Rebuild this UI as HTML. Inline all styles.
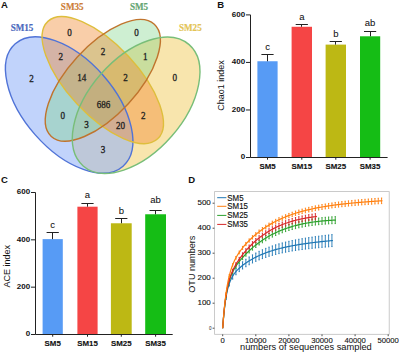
<!DOCTYPE html><html><head><meta charset="utf-8"><style>html,body{margin:0;padding:0;background:#fff;}svg{display:block;}.s{font-family:"Liberation Sans",sans-serif;}.r{font-family:"Liberation Serif",serif;}</style></head><body>
<svg width="400" height="355" viewBox="0 0 400 355">
<rect width="400" height="355" fill="#fff"/>
<ellipse cx="136.14" cy="105.27" rx="80.52" ry="47.1" transform="rotate(-48.86 136.14 105.27)" fill="rgb(238,191,56)" fill-opacity="0.41"/>
<ellipse cx="69.16" cy="105.02" rx="81.56" ry="45.15" transform="rotate(48.63 69.16 105.02)" fill="rgb(149,181,248)" fill-opacity="0.59"/>
<ellipse cx="102.81" cy="80.32" rx="76.13" ry="34.6" transform="rotate(-47.44 102.81 80.32)" fill="rgb(122,212,134)" fill-opacity="0.37"/>
<ellipse cx="102.77" cy="80.11" rx="80.39" ry="35.09" transform="rotate(46.95 102.77 80.11)" fill="rgb(241,133,41)" fill-opacity="0.4"/>
<ellipse cx="69.16" cy="105.02" rx="81.56" ry="45.15" transform="rotate(48.63 69.16 105.02)" fill="none" stroke="rgb(80,115,215)" stroke-width="1.4"/>
<ellipse cx="102.77" cy="80.11" rx="80.39" ry="35.09" transform="rotate(46.95 102.77 80.11)" fill="none" stroke="rgb(222,190,60)" stroke-width="1.4"/>
<ellipse cx="102.81" cy="80.32" rx="76.13" ry="34.6" transform="rotate(-47.44 102.81 80.32)" fill="none" stroke="rgb(192,116,45)" stroke-width="1.4"/>
<ellipse cx="136.14" cy="105.27" rx="80.52" ry="47.1" transform="rotate(-48.86 136.14 105.27)" fill="none" stroke="rgb(120,190,120)" stroke-width="1.4"/>
<g class="r" font-weight="bold" font-size="10">
<text transform="translate(22.05 30.55) scale(0.91 1)" text-anchor="middle" fill="rgb(75,105,190)" stroke="rgb(75,105,190)" stroke-width="0.2">SM15</text>
<text transform="translate(72.2 9.85) scale(0.91 1)" text-anchor="middle" fill="rgb(205,125,55)" stroke="rgb(205,125,55)" stroke-width="0.2">SM35</text>
<text transform="translate(139 9.85) scale(0.91 1)" text-anchor="middle" fill="rgb(100,165,115)" stroke="rgb(100,165,115)" stroke-width="0.2">SM5</text>
<text transform="translate(190.35 30.55) scale(0.91 1)" text-anchor="middle" fill="rgb(228,196,85)" stroke="rgb(228,196,85)" stroke-width="0.2">SM25</text>
</g>
<g class="r" font-size="10" fill="#1e1e1e" stroke="#1e1e1e" stroke-width="0.3" text-anchor="middle">
<text transform="translate(69.5 35.8) scale(0.91 1)">0</text>
<text transform="translate(136.5 35.8) scale(0.91 1)">0</text>
<text transform="translate(31.5 81.5) scale(0.91 1)">2</text>
<text transform="translate(174.75 80.80000000000001) scale(0.91 1)">0</text>
<text transform="translate(60.75 60.0) scale(0.91 1)">2</text>
<text transform="translate(103 55.199999999999996) scale(0.91 1)">2</text>
<text transform="translate(145.4 59.9) scale(0.91 1)">1</text>
<text transform="translate(81.75 81.2) scale(0.91 1)">14</text>
<text transform="translate(125.5 81.2) scale(0.91 1)">2</text>
<text transform="translate(103.55 107.80000000000001) scale(0.91 1)">686</text>
<text transform="translate(62.75 119.10000000000001) scale(0.91 1)">0</text>
<text transform="translate(143.4 119.4) scale(0.91 1)">2</text>
<text transform="translate(86.5 128.3) scale(0.91 1)">3</text>
<text transform="translate(120.5 128.70000000000002) scale(0.91 1)">20</text>
<text transform="translate(103.1 152.5) scale(0.91 1)">3</text>
</g>
<g class="s" font-weight="bold" font-size="9.5" fill="#111">
<text x="1.1" y="8.1">A</text><text x="217.3" y="8.1">B</text><text x="0.9" y="182.8">C</text><text x="188.2" y="182.8">D</text>
</g>
<rect x="257.4" y="61.25" width="20.2" height="96.25" fill="#579bf5"/><path d="M267.5 61.25V54.5M261.4 54.5H273.6" stroke="#222" stroke-width="1" fill="none"/><text class="s" x="267.5" y="50.3" font-size="9.5" text-anchor="middle" fill="#111" stroke="#111" stroke-width="0.05">c</text><rect x="291.6" y="26.78" width="20.4" height="130.72" fill="#f54545"/><path d="M301.5 26.78V24.5M295.7 24.5H307.9" stroke="#222" stroke-width="1" fill="none"/><text class="s" x="301.8" y="20.3" font-size="9.5" text-anchor="middle" fill="#111" stroke="#111" stroke-width="0.05">a</text><rect x="325.6" y="44.61" width="20.4" height="112.89" fill="#bdb814"/><path d="M335.5 44.61V41.5M329.7 41.5H341.9" stroke="#222" stroke-width="1" fill="none"/><text class="s" x="335.8" y="36.6" font-size="9.5" text-anchor="middle" fill="#111" stroke="#111" stroke-width="0.05">b</text><rect x="360" y="36.29" width="20.2" height="121.21" fill="#15bd15"/><path d="M370.5 36.29V31.5M364 31.5H376.2" stroke="#222" stroke-width="1" fill="none"/><text class="s" x="370.1" y="26.3" font-size="9.5" text-anchor="middle" fill="#111" stroke="#111" stroke-width="0.05">ab</text><path d="M250.5 14.9V157.5H387.6" stroke="#222" stroke-width="1" fill="none"/><path d="M246.0 157.5H250.5" stroke="#222" stroke-width="1"/><text class="s" x="245.1" y="159.3" font-size="8" font-weight="bold" text-anchor="end" fill="#111">0</text><path d="M246.0 109.97H250.5" stroke="#222" stroke-width="1"/><text class="s" x="245.1" y="111.77" font-size="8" font-weight="bold" text-anchor="end" fill="#111">200</text><path d="M246.0 62.43H250.5" stroke="#222" stroke-width="1"/><text class="s" x="245.1" y="64.23" font-size="8" font-weight="bold" text-anchor="end" fill="#111">400</text><path d="M246.0 14.9H250.5" stroke="#222" stroke-width="1"/><text class="s" x="245.1" y="16.7" font-size="8" font-weight="bold" text-anchor="end" fill="#111">600</text><path d="M267.5 157.5v2.2" stroke="#222" stroke-width="1"/><text class="s" x="267.5" y="169.3" font-size="7.9" font-weight="bold" text-anchor="middle" fill="#111" stroke="#111" stroke-width="0.12">SM5</text><path d="M301.8 157.5v2.2" stroke="#222" stroke-width="1"/><text class="s" x="301.8" y="169.3" font-size="7.9" font-weight="bold" text-anchor="middle" fill="#111" stroke="#111" stroke-width="0.12">SM15</text><path d="M335.8 157.5v2.2" stroke="#222" stroke-width="1"/><text class="s" x="335.8" y="169.3" font-size="7.9" font-weight="bold" text-anchor="middle" fill="#111" stroke="#111" stroke-width="0.12">SM25</text><path d="M370.1 157.5v2.2" stroke="#222" stroke-width="1"/><text class="s" x="370.1" y="169.3" font-size="7.9" font-weight="bold" text-anchor="middle" fill="#111" stroke="#111" stroke-width="0.12">SM35</text><text class="s" transform="translate(224.2 85.6) rotate(-90)" font-size="9" text-anchor="middle" fill="#111">Chao1 index</text>
<rect x="42.6" y="239.12" width="20.2" height="95.38" fill="#579bf5"/><path d="M52.5 239.12V232.5M46.6 232.5H58.8" stroke="#222" stroke-width="1" fill="none"/><text class="s" x="52.7" y="228.2" font-size="9.5" text-anchor="middle" fill="#111" stroke="#111" stroke-width="0.05">c</text><rect x="77.4" y="206.7" width="20.2" height="127.8" fill="#f54545"/><path d="M87.5 206.7V203.5M81.4 203.5H93.6" stroke="#222" stroke-width="1" fill="none"/><text class="s" x="87.5" y="197.6" font-size="9.5" text-anchor="middle" fill="#111" stroke="#111" stroke-width="0.05">a</text><rect x="110.9" y="223.27" width="20.8" height="111.23" fill="#bdb814"/><path d="M121.5 223.27V218.5M115.2 218.5H127.4" stroke="#222" stroke-width="1" fill="none"/><text class="s" x="121.3" y="213.6" font-size="9.5" text-anchor="middle" fill="#111" stroke="#111" stroke-width="0.05">b</text><rect x="145.2" y="214.27" width="20.8" height="120.23" fill="#15bd15"/><path d="M155.5 214.27V210.5M149.5 210.5H161.7" stroke="#222" stroke-width="1" fill="none"/><text class="s" x="155.6" y="202.8" font-size="9.5" text-anchor="middle" fill="#111" stroke="#111" stroke-width="0.05">ab</text><path d="M35.5 192.5V334.5H172.7" stroke="#222" stroke-width="1" fill="none"/><path d="M31.0 334.5H35.5" stroke="#222" stroke-width="1"/><text class="s" x="30.1" y="336.3" font-size="8" font-weight="bold" text-anchor="end" fill="#111">0</text><path d="M31.0 287.17H35.5" stroke="#222" stroke-width="1"/><text class="s" x="30.1" y="288.97" font-size="8" font-weight="bold" text-anchor="end" fill="#111">200</text><path d="M31.0 239.83H35.5" stroke="#222" stroke-width="1"/><text class="s" x="30.1" y="241.63" font-size="8" font-weight="bold" text-anchor="end" fill="#111">400</text><path d="M31.0 192.5H35.5" stroke="#222" stroke-width="1"/><text class="s" x="30.1" y="194.3" font-size="8" font-weight="bold" text-anchor="end" fill="#111">600</text><path d="M52.7 334.5v2.2" stroke="#222" stroke-width="1"/><text class="s" x="52.7" y="346.3" font-size="7.9" font-weight="bold" text-anchor="middle" fill="#111" stroke="#111" stroke-width="0.12">SM5</text><path d="M87.5 334.5v2.2" stroke="#222" stroke-width="1"/><text class="s" x="87.5" y="346.3" font-size="7.9" font-weight="bold" text-anchor="middle" fill="#111" stroke="#111" stroke-width="0.12">SM15</text><path d="M121.3 334.5v2.2" stroke="#222" stroke-width="1"/><text class="s" x="121.3" y="346.3" font-size="7.9" font-weight="bold" text-anchor="middle" fill="#111" stroke="#111" stroke-width="0.12">SM25</text><path d="M155.6 334.5v2.2" stroke="#222" stroke-width="1"/><text class="s" x="155.6" y="346.3" font-size="7.9" font-weight="bold" text-anchor="middle" fill="#111" stroke="#111" stroke-width="0.12">SM35</text><text class="s" transform="translate(10.2 266.3) rotate(-90)" font-size="9" text-anchor="middle" fill="#111">ACE index</text>
<rect x="214.6" y="191.6" width="174.6" height="142.7" fill="none" stroke="#bdbdbd" stroke-width="0.8"/><path d="M212.6 328.2H214.4" stroke="#222" stroke-width="0.8"/><text class="s" x="211.4" y="329.7" font-size="4.5" text-anchor="end" fill="#222">0</text><path d="M212.6 303.2H214.4" stroke="#222" stroke-width="0.8"/><text class="s" x="210.8" y="305.2" font-size="8" text-anchor="end" fill="#111" stroke="#111" stroke-width="0.12">100</text><path d="M212.6 278.2H214.4" stroke="#222" stroke-width="0.8"/><text class="s" x="210.8" y="280.2" font-size="8" text-anchor="end" fill="#111" stroke="#111" stroke-width="0.12">200</text><path d="M212.6 253.2H214.4" stroke="#222" stroke-width="0.8"/><text class="s" x="210.8" y="255.2" font-size="8" text-anchor="end" fill="#111" stroke="#111" stroke-width="0.12">300</text><path d="M212.6 228.2H214.4" stroke="#222" stroke-width="0.8"/><text class="s" x="210.8" y="230.2" font-size="8" text-anchor="end" fill="#111" stroke="#111" stroke-width="0.12">400</text><path d="M212.6 203.2H214.4" stroke="#222" stroke-width="0.8"/><text class="s" x="210.8" y="205.2" font-size="8" text-anchor="end" fill="#111" stroke="#111" stroke-width="0.12">500</text><path d="M222.7 334.4V336.2" stroke="#222" stroke-width="0.8"/><text class="s" x="222.7" y="342.6" font-size="7.7" text-anchor="middle" fill="#111" stroke="#111" stroke-width="0.1">0</text><path d="M255.8 334.4V336.2" stroke="#222" stroke-width="0.8"/><text class="s" x="255.8" y="342.6" font-size="7.7" text-anchor="middle" fill="#111" stroke="#111" stroke-width="0.1">10000</text><path d="M288.9 334.4V336.2" stroke="#222" stroke-width="0.8"/><text class="s" x="288.9" y="342.6" font-size="7.7" text-anchor="middle" fill="#111" stroke="#111" stroke-width="0.1">20000</text><path d="M322 334.4V336.2" stroke="#222" stroke-width="0.8"/><text class="s" x="322" y="342.6" font-size="7.7" text-anchor="middle" fill="#111" stroke="#111" stroke-width="0.1">30000</text><path d="M355.1 334.4V336.2" stroke="#222" stroke-width="0.8"/><text class="s" x="355.1" y="342.6" font-size="7.7" text-anchor="middle" fill="#111" stroke="#111" stroke-width="0.1">40000</text><path d="M388.2 334.4V336.2" stroke="#222" stroke-width="0.8"/><text class="s" x="388.2" y="342.6" font-size="7.7" text-anchor="middle" fill="#111" stroke="#111" stroke-width="0.1">50000</text><text class="s" x="305.9" y="350.4" font-size="9.3" text-anchor="middle" fill="#111">numbers of sequences sampled</text><text class="s" transform="translate(195.4 264.2) rotate(-90)" font-size="9.1" text-anchor="middle" fill="#111">OTU numbers</text><polyline points="222.7,328.2 222.71,328.09 222.73,327.76 222.77,327.21 222.83,326.46 222.9,325.5 222.99,324.36 223.09,323.04 223.21,321.57 223.34,319.96 223.49,318.22 223.66,316.38 223.84,314.45 224.04,312.46 224.26,310.42 224.49,308.35 224.73,306.28 225,304.2 225.27,302.14 225.57,300.12 225.88,298.14 226.2,296.21 226.54,294.34 226.9,292.54 227.28,290.81 227.66,289.15 228.07,287.57 228.49,286.07 228.93,284.64 229.38,283.29 230.25,280.99 231.12,279.02 231.99,277.31 232.86,275.81 233.73,274.47 234.6,273.26 235.47,272.16 236.34,271.14 237.21,270.2 238.08,269.31 238.95,268.48 239.82,267.69 240.69,266.93 241.56,266.21 242.43,265.51 243.3,264.84 244.17,264.2 245.04,263.57 245.91,262.97 246.78,262.38 247.65,261.81 248.52,261.26 249.39,260.72 250.26,260.2 251.13,259.69 252,259.2 252.87,258.72 253.74,258.25 254.61,257.79 255.48,257.35 256.35,256.91 257.22,256.49 258.09,256.08 258.96,255.68 259.83,255.29 260.7,254.91 261.57,254.54 262.44,254.17 263.31,253.82 264.18,253.48 265.05,253.14 265.92,252.81 266.79,252.49 267.66,252.18 268.53,251.88 269.4,251.58 270.27,251.29 271.14,251 272.01,250.73 272.88,250.46 273.75,250.19 274.62,249.94 275.49,249.68 276.36,249.44 277.23,249.2 278.1,248.96 278.97,248.73 279.84,248.51 280.71,248.29 281.59,248.07 282.46,247.86 283.33,247.66 284.2,247.45 285.07,247.26 285.94,247.06 286.81,246.88 287.68,246.69 288.55,246.51 289.42,246.33 290.29,246.16 291.16,245.99 292.03,245.82 292.9,245.66 293.77,245.5 294.64,245.34 295.51,245.19 296.38,245.04 297.25,244.89 298.12,244.74 298.99,244.6 299.86,244.46 300.73,244.32 301.6,244.19 302.47,244.05 303.34,243.92 304.21,243.8 305.08,243.67 305.95,243.55 306.82,243.42 307.69,243.3 308.56,243.19 309.43,243.07 310.3,242.96 311.17,242.84 312.04,242.73 312.91,242.62 313.78,242.52 314.65,242.41 315.52,242.31 316.39,242.21 317.26,242.1 318.13,242 319,241.91 319.87,241.81 320.74,241.71 321.61,241.62 322.48,241.53 323.35,241.43 324.22,241.34 325.09,241.25 325.96,241.17 326.83,241.08 327.7,240.99 328.57,240.91 329.44,240.82 330.31,240.74 331.18,240.65 332.05,240.57 332.92,240.49" fill="none" stroke="#1f77b4" stroke-width="1.2"/><path d="M226.01 295.24V299.43M225.41 295.24h1.2M225.41 299.43h1.2M229.32 280.88V286.04M228.72 280.88h1.2M228.72 286.04h1.2M232.63 273.28V279.11M232.03 273.28h1.2M232.03 279.11h1.2M235.94 268.43V274.78M235.34 268.43h1.2M235.34 274.78h1.2M239.25 264.8V271.6M238.65 264.8h1.2M238.65 271.6h1.2M242.56 261.82V269M241.96 261.82h1.2M241.96 269h1.2M245.87 259.24V266.75M245.27 259.24h1.2M245.27 266.75h1.2M249.18 256.94V264.76M248.58 256.94h1.2M248.58 264.76h1.2M252.49 254.87V262.98M251.89 254.87h1.2M251.89 262.98h1.2M255.8 253V261.37M255.2 253h1.2M255.2 261.37h1.2M259.11 251.31V259.92M258.51 251.31h1.2M258.51 259.92h1.2M262.42 249.77V258.6M261.82 249.77h1.2M261.82 258.6h1.2M265.73 248.36V257.41M265.13 248.36h1.2M265.13 257.41h1.2M269.04 247.08V256.33M268.44 247.08h1.2M268.44 256.33h1.2M272.35 245.9V255.35M271.75 245.9h1.2M271.75 255.35h1.2M275.66 244.82V254.45M275.06 244.82h1.2M275.06 254.45h1.2M278.97 243.83V253.64M278.37 243.83h1.2M278.37 253.64h1.2M282.28 242.91V252.89M281.68 242.91h1.2M281.68 252.89h1.2M285.59 242.07V252.21M284.99 242.07h1.2M284.99 252.21h1.2M288.9 241.29V251.59M288.3 241.29h1.2M288.3 251.59h1.2M292.21 240.56V251.01M291.61 240.56h1.2M291.61 251.01h1.2M295.52 239.89V250.48M294.92 239.89h1.2M294.92 250.48h1.2M298.83 239.26V249.99M298.23 239.26h1.2M298.23 249.99h1.2M302.14 238.66V249.54M301.54 238.66h1.2M301.54 249.54h1.2M305.45 238.11V249.12M304.85 238.11h1.2M304.85 249.12h1.2M308.76 237.59V248.73M308.16 237.59h1.2M308.16 248.73h1.2M312.07 237.1V248.36M311.47 237.1h1.2M311.47 248.36h1.2M315.38 236.63V248.02M314.78 236.63h1.2M314.78 248.02h1.2M318.69 236.18V247.7M318.09 236.18h1.2M318.09 247.7h1.2M322 235.76V247.39M321.4 235.76h1.2M321.4 247.39h1.2M325.31 235.36V247.1M324.71 235.36h1.2M324.71 247.1h1.2M328.62 234.97V246.83M328.02 234.97h1.2M328.02 246.83h1.2M331.93 234.6V246.57M331.33 234.6h1.2M331.33 246.57h1.2" fill="none" stroke="#1f77b4" stroke-width="0.9"/><polyline points="222.7,328.2 222.71,328.09 222.73,327.75 222.77,327.18 222.83,326.41 222.9,325.42 222.99,324.25 223.09,322.89 223.21,321.37 223.34,319.7 223.49,317.9 223.66,315.99 223.84,313.98 224.04,311.91 224.26,309.78 224.49,307.61 224.73,305.43 225,303.24 225.27,301.06 225.57,298.91 225.88,296.79 226.2,294.72 226.54,292.7 226.9,290.75 227.28,288.86 227.66,287.03 228.07,285.28 228.49,283.6 228.93,281.98 229.38,280.44 230.28,277.71 231.17,275.33 232.07,273.23 232.96,271.35 233.86,269.64 234.75,268.07 235.65,266.61 236.54,265.24 237.44,263.95 238.33,262.72 239.23,261.55 240.12,260.42 241.02,259.34 241.91,258.29 242.81,257.27 243.71,256.28 244.6,255.31 245.5,254.38 246.39,253.46 247.29,252.57 248.18,251.7 249.08,250.85 249.97,250.02 250.87,249.21 251.76,248.41 252.66,247.64 253.55,246.88 254.45,246.14 255.34,245.42 256.24,244.71 257.14,244.01 258.03,243.34 258.93,242.68 259.82,242.03 260.72,241.4 261.61,240.78 262.51,240.17 263.4,239.58 264.3,239.01 265.19,238.44 266.09,237.89 266.98,237.35 267.88,236.83 268.78,236.31 269.67,235.81 270.57,235.32 271.46,234.84 272.36,234.37 273.25,233.92 274.15,233.47 275.04,233.04 275.94,232.61 276.83,232.2 277.73,231.8 278.62,231.4 279.52,231.02 280.41,230.64 281.31,230.27 282.21,229.92 283.1,229.57 284,229.23 284.89,228.9 285.79,228.58 286.68,228.26 287.58,227.96 288.47,227.66 289.37,227.37 290.26,227.09 291.16,226.81 292.05,226.55 292.95,226.29 293.84,226.03 294.74,225.79 295.64,225.55 296.53,225.31 297.43,225.09 298.32,224.87 299.22,224.65 300.11,224.45 301.01,224.24 301.9,224.05 302.8,223.86 303.69,223.68 304.59,223.5 305.48,223.32 306.38,223.16 307.27,222.99 308.17,222.84 309.07,222.69 309.96,222.54 310.86,222.4 311.75,222.26 312.65,222.13 313.54,222 314.44,221.88 315.33,221.76 316.23,221.64 317.12,221.53 318.02,221.43 318.91,221.32 319.81,221.23 320.71,221.13 321.6,221.04 322.5,220.96 323.39,220.87 324.29,220.79 325.18,220.72 326.08,220.65 326.97,220.58 327.87,220.51 328.76,220.45 329.66,220.39 330.55,220.34 331.45,220.29 332.34,220.24 333.24,220.19 334.14,220.15 335.03,220.11 335.93,220.07" fill="none" stroke="#2ca02c" stroke-width="1.2"/><path d="M226.01 294.72V297.14M225.41 294.72h1.2M225.41 297.14h1.2M229.32 279.15V282.13M228.72 279.15h1.2M228.72 282.13h1.2M232.63 270.34V273.71M232.03 270.34h1.2M232.03 273.71h1.2M235.94 264.32V267.99M235.34 264.32h1.2M235.34 267.99h1.2M239.25 259.56V263.49M238.65 259.56h1.2M238.65 263.49h1.2M242.56 255.47V259.63M241.96 255.47h1.2M241.96 259.63h1.2M245.87 251.82V256.17M245.27 251.82h1.2M245.27 256.17h1.2M249.18 248.49V253.02M248.58 248.49h1.2M248.58 253.02h1.2M252.49 245.44V250.13M251.89 245.44h1.2M251.89 250.13h1.2M255.8 242.63V247.47M255.2 242.63h1.2M255.2 247.47h1.2M259.11 240.05V245.03M258.51 240.05h1.2M258.51 245.03h1.2M262.42 237.68V242.79M261.82 237.68h1.2M261.82 242.79h1.2M265.73 235.49V240.73M265.13 235.49h1.2M265.13 240.73h1.2M269.04 233.49V238.84M268.44 233.49h1.2M268.44 238.84h1.2M272.35 231.64V237.11M271.75 231.64h1.2M271.75 237.11h1.2M275.66 229.96V235.53M275.06 229.96h1.2M275.06 235.53h1.2M278.97 228.41V234.09M278.37 228.41h1.2M278.37 234.09h1.2M282.28 227V232.78M281.68 227h1.2M281.68 232.78h1.2M285.59 225.71V231.58M284.99 225.71h1.2M284.99 231.58h1.2M288.9 224.54V230.5M288.3 224.54h1.2M288.3 230.5h1.2M292.21 223.48V229.52M291.61 223.48h1.2M291.61 229.52h1.2M295.52 222.51V228.64M294.92 222.51h1.2M294.92 228.64h1.2M298.83 221.64V227.85M298.23 221.64h1.2M298.23 227.85h1.2M302.14 220.85V227.15M301.54 220.85h1.2M301.54 227.15h1.2M305.45 220.14V226.52M304.85 220.14h1.2M304.85 226.52h1.2M308.76 219.51V225.96M308.16 219.51h1.2M308.16 225.96h1.2M312.07 218.95V225.47M311.47 218.95h1.2M311.47 225.47h1.2M315.38 218.46V225.05M314.78 218.46h1.2M314.78 225.05h1.2M318.69 218.02V224.68M318.09 218.02h1.2M318.09 224.68h1.2M322 217.64V224.37M321.4 217.64h1.2M321.4 224.37h1.2M325.31 217.31V224.11M324.71 217.31h1.2M324.71 224.11h1.2M328.62 217.03V223.89M328.02 217.03h1.2M328.02 223.89h1.2M331.93 216.8V223.72M331.33 216.8h1.2M331.33 223.72h1.2M335.24 216.61V223.59M334.64 216.61h1.2M334.64 223.59h1.2" fill="none" stroke="#2ca02c" stroke-width="0.9"/><polyline points="222.7,328.2 222.71,328.08 222.73,327.73 222.77,327.16 222.83,326.36 222.9,325.35 222.99,324.14 223.09,322.75 223.21,321.19 223.34,319.49 223.49,317.65 223.66,315.7 223.84,313.66 224.04,311.54 224.26,309.38 224.49,307.18 224.73,304.96 225,302.74 225.27,300.54 225.57,298.36 225.88,296.22 226.2,294.13 226.54,292.08 226.9,290.1 227.28,288.19 227.66,286.34 228.07,284.55 228.49,282.84 228.93,281.18 229.38,279.6 230.12,277.25 230.85,275.14 231.59,273.23 232.32,271.47 233.06,269.85 233.79,268.33 234.53,266.91 235.26,265.56 236,264.28 236.73,263.06 237.47,261.88 238.2,260.75 238.94,259.65 239.68,258.59 240.41,257.56 241.15,256.56 241.88,255.58 242.62,254.63 243.35,253.7 244.09,252.8 244.82,251.91 245.56,251.04 246.29,250.2 247.03,249.37 247.76,248.55 248.5,247.76 249.23,246.98 249.97,246.22 250.71,245.47 251.44,244.74 252.18,244.03 252.91,243.32 253.65,242.64 254.38,241.97 255.12,241.31 255.85,240.66 256.59,240.03 257.32,239.41 258.06,238.8 258.79,238.21 259.53,237.63 260.27,237.06 261,236.5 261.74,235.95 262.47,235.42 263.21,234.9 263.94,234.38 264.68,233.88 265.41,233.39 266.15,232.91 266.88,232.44 267.62,231.98 268.35,231.53 269.09,231.09 269.82,230.65 270.56,230.23 271.3,229.82 272.03,229.41 272.77,229.01 273.5,228.63 274.24,228.25 274.97,227.88 275.71,227.51 276.44,227.16 277.18,226.81 277.91,226.47 278.65,226.14 279.38,225.82 280.12,225.5 280.86,225.19 281.59,224.89 282.33,224.59 283.06,224.3 283.8,224.02 284.53,223.74 285.27,223.47 286,223.21 286.74,222.95 287.47,222.7 288.21,222.45 288.94,222.21 289.68,221.97 290.41,221.75 291.15,221.52 291.89,221.3 292.62,221.09 293.36,220.88 294.09,220.68 294.83,220.48 295.56,220.29 296.3,220.1 297.03,219.92 297.77,219.74 298.5,219.57 299.24,219.4 299.97,219.23 300.71,219.07 301.45,218.91 302.18,218.76 302.92,218.61 303.65,218.47 304.39,218.33 305.12,218.19 305.86,218.06 306.59,217.93 307.33,217.8 308.06,217.68 308.8,217.56 309.53,217.45 310.27,217.33 311.01,217.22 311.74,217.12 312.48,217.02 313.21,216.92 313.95,216.82 314.68,216.73 315.42,216.64 316.15,216.55 316.89,216.47" fill="none" stroke="#d62728" stroke-width="1.2"/><path d="M226.01 294.25V296.45M225.41 294.25h1.2M225.41 296.45h1.2M229.32 278.45V281.15M228.72 278.45h1.2M228.72 281.15h1.2M232.63 269.25V272.3M232.03 269.25h1.2M232.03 272.3h1.2M235.94 262.72V266.05M235.34 262.72h1.2M235.34 266.05h1.2M239.25 257.42V260.98M238.65 257.42h1.2M238.65 260.98h1.2M242.56 252.82V256.58M241.96 252.82h1.2M241.96 256.58h1.2M245.87 248.71V252.65M245.27 248.71h1.2M245.27 252.65h1.2M249.18 244.99V249.09M248.58 244.99h1.2M248.58 249.09h1.2M252.49 241.6V245.85M251.89 241.6h1.2M251.89 245.85h1.2M255.8 238.51V242.9M255.2 238.51h1.2M255.2 242.9h1.2M259.11 235.7V240.21M258.51 235.7h1.2M258.51 240.21h1.2M262.42 233.14V237.77M261.82 233.14h1.2M261.82 237.77h1.2M265.73 230.81V235.55M265.13 230.81h1.2M265.13 235.55h1.2M269.04 228.69V233.54M268.44 228.69h1.2M268.44 233.54h1.2M272.35 226.76V231.71M271.75 226.76h1.2M271.75 231.71h1.2M275.66 225.01V230.06M275.06 225.01h1.2M275.06 230.06h1.2M278.97 223.43V228.57M278.37 223.43h1.2M278.37 228.57h1.2M282.28 221.99V227.22M281.68 221.99h1.2M281.68 227.22h1.2M285.59 220.7V226.01M284.99 220.7h1.2M284.99 226.01h1.2M288.9 219.52V224.92M288.3 219.52h1.2M288.3 224.92h1.2M292.21 218.47V223.95M291.61 218.47h1.2M291.61 223.95h1.2M295.52 217.52V223.08M294.92 217.52h1.2M294.92 223.08h1.2M298.83 216.68V222.31M298.23 216.68h1.2M298.23 222.31h1.2M302.14 215.92V221.62M301.54 215.92h1.2M301.54 221.62h1.2M305.45 215.24V221.02M304.85 215.24h1.2M304.85 221.02h1.2M308.76 214.65V220.49M308.16 214.65h1.2M308.16 220.49h1.2M312.07 214.12V220.03M311.47 214.12h1.2M311.47 220.03h1.2M315.38 213.66V219.63M314.78 213.66h1.2M314.78 219.63h1.2" fill="none" stroke="#d62728" stroke-width="0.9"/><polyline points="222.7,328.2 222.71,328.08 222.73,327.74 222.77,327.17 222.83,326.38 222.9,325.37 222.99,324.17 223.09,322.77 223.21,321.2 223.34,319.47 223.49,317.59 223.66,315.59 223.84,313.47 224.04,311.26 224.26,308.98 224.49,306.64 224.73,304.26 225,301.85 225.27,299.44 225.57,297.03 225.88,294.64 226.2,292.27 226.54,289.95 226.9,287.67 227.28,285.45 227.66,283.3 228.07,281.2 228.49,279.18 228.93,277.22 229.38,275.34 230.67,270.66 231.95,266.76 233.24,263.45 234.53,260.58 235.81,258.05 237.1,255.77 238.39,253.69 239.68,251.78 240.96,249.99 242.25,248.31 243.54,246.71 244.82,245.2 246.11,243.75 247.4,242.36 248.68,241.02 249.97,239.74 251.26,238.5 252.54,237.3 253.83,236.14 255.12,235.03 256.4,233.95 257.69,232.9 258.98,231.89 260.27,230.91 261.55,229.96 262.84,229.05 264.13,228.16 265.41,227.3 266.7,226.47 267.99,225.66 269.27,224.88 270.56,224.12 271.85,223.39 273.13,222.68 274.42,221.99 275.71,221.32 276.99,220.68 278.28,220.05 279.57,219.44 280.86,218.85 282.14,218.28 283.43,217.73 284.72,217.2 286,216.68 287.29,216.17 288.58,215.68 289.86,215.21 291.15,214.75 292.44,214.3 293.72,213.87 295.01,213.45 296.3,213.05 297.58,212.65 298.87,212.27 300.16,211.9 301.45,211.54 302.73,211.19 304.02,210.85 305.31,210.52 306.59,210.2 307.88,209.88 309.17,209.58 310.45,209.29 311.74,209 313.03,208.73 314.31,208.46 315.6,208.19 316.89,207.94 318.17,207.69 319.46,207.45 320.75,207.22 322.04,206.99 323.32,206.77 324.61,206.55 325.9,206.34 327.18,206.14 328.47,205.94 329.76,205.75 331.04,205.56 332.33,205.38 333.62,205.2 334.9,205.03 336.19,204.86 337.48,204.69 338.76,204.53 340.05,204.37 341.34,204.22 342.63,204.07 343.91,203.92 345.2,203.78 346.49,203.64 347.77,203.51 349.06,203.38 350.35,203.25 351.63,203.12 352.92,203 354.21,202.88 355.49,202.76 356.78,202.64 358.07,202.53 359.36,202.42 360.64,202.31 361.93,202.2 363.22,202.1 364.5,202 365.79,201.9 367.08,201.8 368.36,201.71 369.65,201.61 370.94,201.52 372.22,201.43 373.51,201.34 374.8,201.26 376.08,201.17 377.37,201.09 378.66,201 379.95,200.92 381.23,200.84 382.52,200.77" fill="none" stroke="#ff7f0e" stroke-width="1.2"/><path d="M226.01 292.78V294.53M225.41 292.78h1.2M225.41 294.53h1.2M229.32 274.5V276.66M228.72 274.5h1.2M228.72 276.66h1.2M232.63 263.74V266.17M232.03 263.74h1.2M232.03 266.17h1.2M235.94 256.49V259.14M235.34 256.49h1.2M235.34 259.14h1.2M239.25 250.98V253.81M238.65 250.98h1.2M238.65 253.81h1.2M242.56 246.41V249.41M241.96 246.41h1.2M241.96 249.41h1.2M245.87 242.44V245.58M245.27 242.44h1.2M245.27 245.58h1.2M249.18 238.89V242.15M248.58 238.89h1.2M248.58 242.15h1.2M252.49 235.66V239.04M251.89 235.66h1.2M251.89 239.04h1.2M255.8 232.7V236.2M255.2 232.7h1.2M255.2 236.2h1.2M259.11 229.99V233.59M258.51 229.99h1.2M258.51 233.59h1.2M262.42 227.5V231.19M261.82 227.5h1.2M261.82 231.19h1.2M265.73 225.2V228.98M265.13 225.2h1.2M265.13 228.98h1.2M269.04 223.09V226.95M268.44 223.09h1.2M268.44 226.95h1.2M272.35 221.14V225.08M271.75 221.14h1.2M271.75 225.08h1.2M275.66 219.34V223.36M275.06 219.34h1.2M275.06 223.36h1.2M278.97 217.68V221.77M278.37 217.68h1.2M278.37 221.77h1.2M282.28 216.14V220.31M281.68 216.14h1.2M281.68 220.31h1.2M285.59 214.72V218.96M284.99 214.72h1.2M284.99 218.96h1.2M288.9 213.41V217.71M288.3 213.41h1.2M288.3 217.71h1.2M292.21 212.2V216.56M291.61 212.2h1.2M291.61 216.56h1.2M295.52 211.08V215.5M294.92 211.08h1.2M294.92 215.5h1.2M298.83 210.04V214.52M298.23 210.04h1.2M298.23 214.52h1.2M302.14 209.08V213.62M301.54 209.08h1.2M301.54 213.62h1.2M305.45 208.18V212.78M304.85 208.18h1.2M304.85 212.78h1.2M308.76 207.35V212M308.16 207.35h1.2M308.16 212h1.2M312.07 206.58V211.28M311.47 206.58h1.2M311.47 211.28h1.2M315.38 205.86V210.62M314.78 205.86h1.2M314.78 210.62h1.2M318.69 205.19V210M318.09 205.19h1.2M318.09 210h1.2M322 204.57V209.42M321.4 204.57h1.2M321.4 209.42h1.2M325.31 203.99V208.89M324.71 203.99h1.2M324.71 208.89h1.2M328.62 203.44V208.39M328.02 203.44h1.2M328.02 208.39h1.2M331.93 202.94V207.93M331.33 202.94h1.2M331.33 207.93h1.2M335.24 202.46V207.5M334.64 202.46h1.2M334.64 207.5h1.2M338.55 202.01V207.1M337.95 202.01h1.2M337.95 207.1h1.2M341.86 201.59V206.72M341.26 201.59h1.2M341.26 206.72h1.2M345.17 201.2V206.37M344.57 201.2h1.2M344.57 206.37h1.2M348.48 200.83V206.04M347.88 200.83h1.2M347.88 206.04h1.2M351.79 200.48V205.73M351.19 200.48h1.2M351.19 205.73h1.2M355.1 200.15V205.44M354.5 200.15h1.2M354.5 205.44h1.2M358.41 199.83V205.17M357.81 199.83h1.2M357.81 205.17h1.2M361.72 199.54V204.91M361.12 199.54h1.2M361.12 204.91h1.2M365.03 199.25V204.66M364.43 199.25h1.2M364.43 204.66h1.2M368.34 198.99V204.43M367.74 198.99h1.2M367.74 204.43h1.2M371.65 198.73V204.21M371.05 198.73h1.2M371.05 204.21h1.2M374.96 198.49V204M374.36 198.49h1.2M374.36 204h1.2M378.27 198.25V203.81M377.67 198.25h1.2M377.67 203.81h1.2M381.58 198.03V203.62M380.98 198.03h1.2M380.98 203.62h1.2" fill="none" stroke="#ff7f0e" stroke-width="0.9"/><path d="M217.2 197.7H226.4" stroke="#1f77b4" stroke-width="1"/><text class="s" transform="translate(227.3 200.7) scale(0.92 1)" font-size="8.6" fill="#111" stroke="#111" stroke-width="0.15">SM5</text><path d="M217.2 206.3H226.4" stroke="#ff7f0e" stroke-width="1"/><text class="s" transform="translate(227.3 209.3) scale(0.92 1)" font-size="8.6" fill="#111" stroke="#111" stroke-width="0.15">SM15</text><path d="M217.2 215.4H226.4" stroke="#2ca02c" stroke-width="1"/><text class="s" transform="translate(227.3 218.4) scale(0.92 1)" font-size="8.6" fill="#111" stroke="#111" stroke-width="0.15">SM25</text><path d="M217.2 224.4H226.4" stroke="#d62728" stroke-width="1"/><text class="s" transform="translate(227.3 227.4) scale(0.92 1)" font-size="8.6" fill="#111" stroke="#111" stroke-width="0.15">SM35</text>
</svg></body></html>
